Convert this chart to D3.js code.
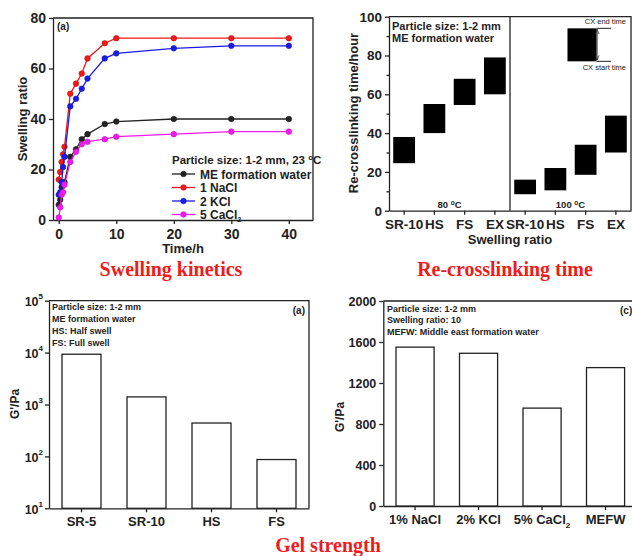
<!DOCTYPE html>
<html>
<head>
<meta charset="utf-8">
<script src="https://cdn.jsdelivr.net/npm/d3@7"></script>
<style>
  body { margin: 0; background: #fff; }
  svg { display: block; font-family: "Liberation Sans", Arial, sans-serif; }
  .axis text { font-weight: bold; fill: #222; }
  .axis path, .axis line { stroke: #222; stroke-width: 1.3; }
</style>
</head>
<body>
<div id="chart"></div>
<script>
/* Swelling kinetics */
const TIME = [0, 0.25, 0.5, 0.75, 1, 2, 3, 4, 5, 8, 10, 20, 30, 40];
const ME_WATER = [6, 8, 13, 14, 15, 25, 28, 32, 34, 38, 39, 40, 40, 40];
const NACL = [16, 19, 23, 26, 29, 50, 54, 58, 64, 70, 72, 72, 72, 72];
const KCL = [10, 11, 15, 21, 25, 45, 48, 52, 56, 64, 66, 68, 69, 69];
const CACL2 = [1, 5, 10, 11, 14, 23, 27, 30, 31, 32, 33, 34, 35, 35];
const SWELL_SERIES = [
    { name: 'ME formation water', values: ME_WATER, color: '#222222' },
    { name: '1 NaCl', values: NACL, color: '#f01818' },
    { name: '2 KCl', values: KCL, color: '#1a1ae6' },
    { name: '5 CaCl', sub: '2', values: CACL2, color: '#f01af0' }
];

/* Re-crosslinking time */
const CX_CATS = ['SR-10 a', 'HS a', 'FS a', 'EX a', 'SR-10 b', 'HS b', 'FS b', 'EX b'];
const CX_START = [24.5, 40, 54.5, 60, 8.5, 10.5, 18.5, 30];
const CX_END = [38, 55, 68, 79, 16, 22, 34, 49];

/* Gel strength */
const GEL_CATS = ['SR-5', 'SR-10', 'HS', 'FS'];
const GEL_VALUES = [9300, 1400, 440, 87];
const SALT_CATS = ['1% NaCl', '2% KCl', '5% CaCl', 'MEFW'];
const SALT_VALUES = [1550, 1490, 955, 1350];

const W = 632, H = 556;
const svg = d3.select('#chart').append('svg')
    .attr('width', W)
    .attr('height', H);

function frame(x0, x1, y0, y1) {
    svg.append('path')
        .attr('d', `M${x0},${y0}H${x1}V${y1}`)
        .attr('fill', 'none')
        .attr('stroke', '#222')
        .attr('stroke-width', 1.3);
}

function boldText(x, y, txt, size, anchor) {
    return svg.append('text')
        .attr('x', x).attr('y', y)
        .attr('font-size', size)
        .attr('font-weight', 'bold')
        .attr('fill', '#222')
        .attr('text-anchor', anchor || 'start')
        .text(txt);
}

function yLabel(x, y, txt, size) {
    svg.append('text')
        .attr('transform', `translate(${x},${y}) rotate(-90)`)
        .attr('font-size', size)
        .attr('font-weight', 'bold')
        .attr('fill', '#222')
        .attr('text-anchor', 'middle')
        .text(txt);
}

function title(x, y, txt) {
    svg.append('text')
        .attr('x', x).attr('y', y)
        .attr('font-family', '"Liberation Serif", "Times New Roman", serif')
        .attr('font-size', 20)
        .attr('font-weight', 'bold')
        .attr('fill', '#ee1c1c')
        .attr('text-anchor', 'middle')
        .text(txt);
}

// axis groups: drop d3's own font settings
function clean(g, size) {
    g.attr('font-family', null).attr('font-size', null);
    g.selectAll('text').attr('font-size', size);
}

/* ---------- panel 1: swelling kinetics ---------- */
const x1 = d3.scaleLinear().domain([-1, 44.2]).range([53, 313]);
const y1 = d3.scaleLinear().domain([0, 80]).range([220, 18]);

svg.append('g').attr('class', 'axis')
    .attr('transform', 'translate(0,220)')
    .call(d3.axisBottom(x1).tickValues([0, 10, 20, 30, 40]).tickSize(4).tickSizeOuter(0))
    .call(g => clean(g, 14))
    .call(g => g.selectAll('text').attr('dy', '0.85em'));
svg.append('g').attr('class', 'axis')
    .attr('transform', 'translate(53,0)')
    .call(d3.axisLeft(y1).tickValues([0, 20, 40, 60, 80]).tickSize(4).tickSizeOuter(0))
    .call(g => clean(g, 14));
frame(53, 313, 18, 220);

const line1 = d3.line().x((d, i) => x1(TIME[i])).y(d => y1(d));
SWELL_SERIES.forEach(s => {
    svg.append('path')
        .attr('d', line1(s.values))
        .attr('fill', 'none')
        .attr('stroke', s.color)
        .attr('stroke-width', 1.3);
    svg.append('g').selectAll('circle').data(s.values).enter().append('circle')
        .attr('cx', (d, i) => x1(TIME[i]))
        .attr('cy', d => y1(d))
        .attr('r', 2.8)
        .attr('fill', s.color)
        .attr('stroke', d3.color(s.color).darker(0.6))
        .attr('stroke-width', 0.6);
});

svg.append('text').attr('x', 57).attr('y', 30)
    .attr('font-size', 10).attr('font-weight', 'bold').attr('fill', '#222').text('(a)');

const lg = svg.append('g');
const lt = boldText(172, 164, 'Particle size: 1-2 mm, 23 ', 11.5);
lt.append('tspan').attr('font-size', 8).attr('dy', -4).text('o');
lt.append('tspan').attr('dy', 4).text('C');
SWELL_SERIES.forEach((s, i) => {
    const yy = 174 + i * 13.5;
    lg.append('line').attr('x1', 172).attr('x2', 195).attr('y1', yy).attr('y2', yy)
        .attr('stroke', s.color).attr('stroke-width', 1.3);
    lg.append('circle').attr('cx', 183.5).attr('cy', yy).attr('r', 2.8)
        .attr('fill', s.color).attr('stroke', d3.color(s.color).darker(0.6)).attr('stroke-width', 0.6);
    const t = boldText(200, yy + 4.5, s.name, 12);
    if (s.sub) t.append('tspan').attr('font-size', 7).attr('dy', 3).text(s.sub);
});

svg.append('text').attr('x', 183).attr('y', 253)
    .attr('font-size', 13).attr('font-weight', 'bold').attr('fill', '#222')
    .attr('text-anchor', 'middle').text('Time/h');
yLabel(27, 119, 'Swelling ratio', 13);

/* ---------- panel 2: re-crosslinking time ---------- */
const x2 = d3.scaleBand().domain(CX_CATS).range([389, 631]).padding(0);
const y2 = d3.scaleLinear().domain([0, 100]).range([210.7, 16.7]);

svg.append('g').attr('class', 'axis')
    .attr('transform', 'translate(0,210.7)')
    .call(d3.axisBottom(x2).tickSize(4).tickSizeOuter(0).tickFormat(d => d.split(' ')[0]))
    .call(g => clean(g, 13.5))
    .call(g => g.selectAll('text').attr('dy', '0.85em'));
svg.append('g').attr('class', 'axis')
    .attr('transform', 'translate(389,0)')
    .call(d3.axisLeft(y2).tickValues(d3.range(0, 101, 10)).tickSize(4).tickSizeOuter(0)
        .tickFormat(d => d % 20 === 0 ? d : ''))
    .call(g => g.selectAll('.tick').filter(d => d % 20 !== 0).select('line').attr('x2', -2.5))
    .call(g => clean(g, 13.5));
frame(389, 631, 16.7, 210.7);
svg.append('line')
    .attr('x1', x2('SR-10 b')).attr('x2', x2('SR-10 b'))
    .attr('y1', y2(100)).attr('y2', y2(0))
    .attr('stroke', '#222').attr('stroke-width', 1.3);

const bw2 = x2.bandwidth() * 0.72;
svg.append('g').selectAll('rect').data(CX_CATS).enter().append('rect')
    .attr('x', d => x2(d) + (x2.bandwidth() - bw2) / 2)
    .attr('width', bw2)
    .attr('y', (d, i) => y2(CX_END[i]))
    .attr('height', (d, i) => y2(CX_START[i]) - y2(CX_END[i]))
    .attr('fill', '#000');

boldText(392, 30, 'Particle size: 1-2 mm', 11);
boldText(392, 42, 'ME formation water', 11);

function degLabel(x, y, num) {
    const t = boldText(x, y, num + ' ', 9.5, 'middle');
    t.append('tspan').attr('font-size', 6.5).attr('dy', -3).text('o');
    t.append('tspan').attr('dy', 3).text('C');
}
degLabel(x2('HS a') + x2.bandwidth(), 208, '80');
degLabel(x2('HS b') + x2.bandwidth(), 208, '100');

// inset legend for start / end
const insetX = x2('HS b') + x2.bandwidth() * 0.9;
svg.append('rect')
    .attr('x', insetX).attr('width', 29)
    .attr('y', y2(94)).attr('height', y2(77) - y2(94))
    .attr('fill', '#000');
[94, 77].forEach(v => {
    svg.append('line').attr('x1', insetX + 29).attr('x2', 611)
        .attr('y1', y2(v)).attr('y2', y2(v))
        .attr('stroke', '#222').attr('stroke-width', 1);
});
svg.append('defs').append('marker')
    .attr('id', 'arr').attr('viewBox', '0 0 10 10')
    .attr('refX', 10).attr('refY', 5)
    .attr('markerWidth', 5).attr('markerHeight', 5)
    .attr('orient', 'auto-start-reverse')
    .append('path').attr('d', 'M0,1L10,5L0,9').attr('fill', 'none').attr('stroke', '#222').attr('stroke-width', 1.5);
svg.append('line')
    .attr('x1', 597).attr('x2', 597)
    .attr('y1', y2(94) + 1).attr('y2', y2(77) - 1)
    .attr('stroke', '#222').attr('stroke-width', 1)
    .attr('marker-start', 'url(#arr)').attr('marker-end', 'url(#arr)');
svg.append('text').attr('x', 626).attr('y', y2(94) - 4)
    .attr('font-size', 7.5).attr('fill', '#222').attr('text-anchor', 'end').text('CX end time');
svg.append('text').attr('x', 626).attr('y', y2(77) + 9)
    .attr('font-size', 7.5).attr('fill', '#222').attr('text-anchor', 'end').text('CX start time');

svg.append('text').attr('x', 510).attr('y', 244)
    .attr('font-size', 13).attr('font-weight', 'bold').attr('fill', '#222')
    .attr('text-anchor', 'middle').text('Swelling ratio');
yLabel(358, 113, 'Re-crosslinking time/hour', 13);

title(171, 276, 'Swelling  kinetics');
title(505, 276, 'Re-crosslinking time');

/* ---------- panel 3: gel strength (log) ---------- */
const x3 = d3.scaleBand().domain(GEL_CATS).range([49, 309]).paddingInner(0.4).paddingOuter(0.2);
const y3 = d3.scaleLog().domain([10, 1e5]).range([508.3, 300.7]);

svg.append('g').attr('class', 'axis')
    .attr('transform', 'translate(0,508.3)')
    .call(d3.axisBottom(x3).tickSize(4).tickSizeOuter(0))
    .call(g => clean(g, 13))
    .call(g => g.selectAll('text').attr('dy', '0.85em'));
const ya3 = svg.append('g').attr('class', 'axis')
    .attr('transform', 'translate(49,0)')
    .call(d3.axisLeft(y3).tickValues([10, 100, 1000, 1e4, 1e5]).tickSize(4).tickSizeOuter(0).tickFormat(''))
    .call(g => g.attr('font-family', null));
ya3.selectAll('.tick').each(function(d) {
    const t = d3.select(this).append('text')
        .attr('x', -6).attr('dy', '0.4em')
        .attr('text-anchor', 'end')
        .attr('font-size', 12.5);
    t.append('tspan').text('10');
    t.append('tspan').attr('font-size', 8).attr('dy', '-0.9em').text(Math.round(Math.log10(d)));
});
frame(49, 309, 300.7, 508.3);

svg.append('g').selectAll('rect').data(GEL_VALUES).enter().append('rect')
    .attr('x', (d, i) => x3(GEL_CATS[i]))
    .attr('width', x3.bandwidth())
    .attr('y', d => y3(d))
    .attr('height', d => y3(10) - y3(d))
    .attr('fill', '#fff')
    .attr('stroke', '#222')
    .attr('stroke-width', 1.3);

['Particle size: 1-2 mm', 'ME formation water', 'HS: Half swell', 'FS: Full swell'].forEach((t, i) => {
    boldText(52, 310 + i * 12, t, 9);
});
svg.append('text').attr('x', 305).attr('y', 314)
    .attr('font-size', 10).attr('font-weight', 'bold').attr('fill', '#222')
    .attr('text-anchor', 'end').text('(a)');
yLabel(19, 404, "G'/Pa", 12);

/* ---------- panel 4: gel strength by salt ---------- */
const x4 = d3.scaleBand().domain(SALT_CATS).range([383.3, 637.3]).paddingInner(0.4).paddingOuter(0.2);
const y4 = d3.scaleLinear().domain([0, 2000]).range([506, 301]);

const xa4 = svg.append('g').attr('class', 'axis')
    .attr('transform', 'translate(0,506)')
    .call(d3.axisBottom(x4).tickSize(4).tickSizeOuter(0))
    .call(g => clean(g, 13))
    .call(g => g.selectAll('text').attr('dy', '0.85em'));
xa4.selectAll('.tick text').filter(d => d === '5% CaCl')
    .append('tspan').attr('font-size', 8).attr('dy', 4).text('2');
svg.append('g').attr('class', 'axis')
    .attr('transform', 'translate(383.3,0)')
    .call(d3.axisLeft(y4).tickValues([0, 400, 800, 1200, 1600, 2000]).tickSize(4).tickSizeOuter(0)
        .tickFormat(d3.format('d')))
    .call(g => clean(g, 12.5));
frame(383.3, 640, 301, 506);

svg.append('g').selectAll('rect').data(SALT_VALUES).enter().append('rect')
    .attr('x', (d, i) => x4(SALT_CATS[i]))
    .attr('width', x4.bandwidth())
    .attr('y', d => y4(d))
    .attr('height', d => y4(0) - y4(d))
    .attr('fill', '#fff')
    .attr('stroke', '#222')
    .attr('stroke-width', 1.3);

['Particle size: 1-2 mm', 'Swelling ratio: 10', 'MEFW: Middle east formation water'].forEach((t, i) => {
    boldText(387, 312 + i * 11.3, t, 9);
});
svg.append('text').attr('x', 620).attr('y', 314)
    .attr('font-size', 10).attr('font-weight', 'bold').attr('fill', '#222')
    .text('(c)');
yLabel(344, 417, "G'/Pa", 12);

title(328, 552, 'Gel strength');
</script>
</body>
</html>
